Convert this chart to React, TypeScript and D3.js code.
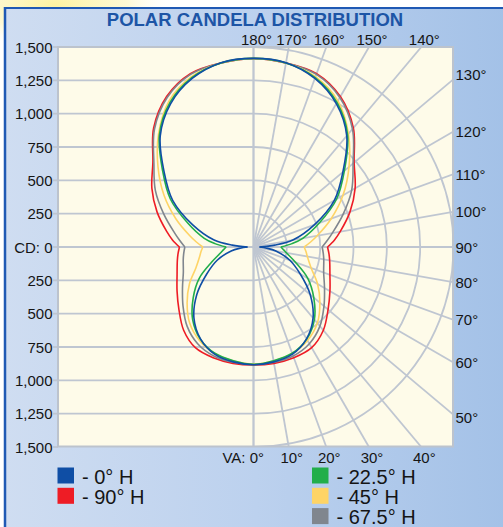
import React from 'react';
import * as d3 from 'd3';

// ---- data ----
const VA_ANGLES = [0, 10, 20, 30, 40, 50, 60, 70, 80, 85, 90, 95, 100, 110, 120, 130, 140, 150, 160, 170, 180];
const CD_0H = [883, 875, 855, 795, 695, 555, 405, 290, 170, 100, 45, 160, 300, 485, 700, 875, 1088, 1242, 1345, 1404, 1415];
const CD_22H = [880, 866, 848, 798, 710, 590, 470, 335, 250, 225, 205, 290, 375, 525, 720, 890, 1098, 1252, 1352, 1402, 1415];
const CD_45H = [878, 868, 850, 810, 745, 650, 555, 460, 410, 395, 380, 430, 485, 620, 775, 935, 1108, 1266, 1360, 1402, 1413];
const CD_67H = [882, 878, 870, 838, 775, 690, 615, 560, 535, 525, 515, 555, 600, 715, 850, 975, 1155, 1295, 1378, 1402, 1413];
const CD_90H = [885, 886, 884, 872, 815, 730, 662, 610, 580, 568, 555, 610, 660, 770, 880, 985, 1165, 1303, 1384, 1402, 1413];

const SERIES_NAMES = ['- 0° H', '- 90° H', '- 22.5° H', '- 45° H', '- 67.5° H'];
const SERIES_COLORS = ['#0f4ea5', '#ee1c25', '#22ae4a', '#fed466', '#80868e'];
const SERIES_VALUES = [CD_0H, CD_90H, CD_22H, CD_45H, CD_67H];
const DRAW_ORDER = [1, 4, 3, 2, 0];

const CD_TICKS = [1500, 1250, 1000, 750, 500, 250, 0, -250, -500, -750, -1000, -1250, -1500];
const RING_VALUES = [250, 500, 750, 1000, 1250, 1500];
const SPOKE_ANGLES = d3.range(0, 181, 10);

const TITLE = 'POLAR CANDELA DISTRIBUTION';

export default function App() {
  const W = 503, H = 527;
  const cx = 253.5, cy = 247;
  const R = 200;
  const plotL = 58, plotR = 453, plotT = 47, plotB = 446.5;
  const r = d3.scaleLinear().domain([0, 1500]).range([0, R]);
  const fmt = d3.format(',');
  const font = "'Liberation Sans', Arial, Helvetica, sans-serif";
  const toRad = (d: number) => (d * Math.PI) / 180;

  const line = d3
    .lineRadial<[number, number]>()
    .angle((d) => d[0])
    .radius((d) => r(d[1]))
    .curve(d3.curveCatmullRom.alpha(0.5));

  const buildPaths = (vals: number[]) => {
    const pts = VA_ANGLES.map((a, i) => ({ a, v: vals[i] }));
    const upperRight = pts.filter((p) => p.a >= 90).map((p) => [Math.PI - toRad(p.a), p.v] as [number, number]);
    const upperLeft = pts
      .filter((p) => p.a >= 90 && p.a < 180)
      .reverse()
      .map((p) => [Math.PI + toRad(p.a), p.v] as [number, number]);
    const lowerLeft = pts
      .filter((p) => p.a <= 90)
      .reverse()
      .map((p) => [Math.PI + toRad(p.a), p.v] as [number, number]);
    const lowerRight = pts
      .filter((p) => p.a <= 90 && p.a > 0)
      .map((p) => [Math.PI - toRad(p.a), p.v] as [number, number]);
    return [line([...upperRight, ...upperLeft]) || '', line([...lowerLeft, ...lowerRight]) || ''];
  };

  // spoke exit points & labels
  const spokes = SPOKE_ANGLES.map((a) => {
    const dx = Math.sin(toRad(a));
    const dy = Math.cos(toRad(a)); // + = down
    const tx = dx > 1e-6 ? (plotR - cx) / dx : Infinity;
    const ty = Math.abs(dy) > 1e-6 ? (dy > 0 ? plotB - cy : cy - plotT) / Math.abs(dy) : Infinity;
    const t = Math.min(tx, ty, 400);
    let side = 'right';
    if (ty <= tx) side = dy > 0 ? 'bottom' : 'top';
    return { a, x2: cx + dx * t, y2: cy + dy * t, side, tanX: cx + R * Math.tan(toRad(dy > 0 ? a : 180 - a)) };
  });

  const gridColor = '#bfc6d1';
  const textColor = '#151515';

  return (
    <svg width={W} height={H} style={{ position: 'absolute', left: 0, top: 0 }} xmlns="http://www.w3.org/2000/svg">
      <defs>
        <linearGradient id="frameGrad" x1="0" y1="0" x2="1" y2="0">
          <stop offset="0" stopColor="#cfddf1" />
          <stop offset="0.5" stopColor="#bcd1ee" />
          <stop offset="1" stopColor="#a3c1e7" />
        </linearGradient>
        <radialGradient id="glow" cx="0.5" cy="0.5" r="0.5">
          <stop offset="0" stopColor="#fdf29c" stopOpacity="0.95" />
          <stop offset="0.6" stopColor="#fdf5b8" stopOpacity="0.6" />
          <stop offset="1" stopColor="#ffffff" stopOpacity="0" />
        </radialGradient>
        <clipPath id="plotClip">
          <rect x={plotL} y={plotT} width={plotR - plotL} height={plotB - plotT} />
        </clipPath>
      </defs>

      <rect x={0} y={0} width={W} height={H} fill="#ffffff" />
      <ellipse cx={55} cy={5} rx={120} ry={45} fill="url(#glow)" />

      {/* frame */}
      <rect x={5} y={8} width={W} height={H} fill="url(#frameGrad)" />
      <line x1={5} y1={8} x2={W} y2={8} stroke="#1f59b4" strokeWidth={2} />
      <line x1={5} y1={7} x2={5} y2={H} stroke="#1f59b4" strokeWidth={2.5} />

      <text x={255} y={25.5} textAnchor="middle" fontFamily={font} fontWeight="bold" fontSize={18.5} fill="#1d55a6">
        {TITLE}
      </text>

      {/* plot background */}
      <rect x={plotL} y={plotT} width={plotR - plotL} height={plotB - plotT} fill="#fefbe9" />

      <g clipPath="url(#plotClip)" fill="none" stroke={gridColor} strokeWidth={1.8}>
        {/* left horizontal lines */}
        {CD_TICKS.map((v) => (
          <line key={'h' + v} x1={plotL} x2={cx} y1={cy - r(v)} y2={cy - r(v)} />
        ))}
        {/* right half rings */}
        {RING_VALUES.map((v) => (
          <path
            key={'ring' + v}
            d={d3.arc()({ innerRadius: r(v), outerRadius: r(v), startAngle: 0, endAngle: Math.PI }) || ''}
            transform={`translate(${cx},${cy})`}
          />
        ))}
        {/* spokes */}
        {spokes.map((s) => (
          <line key={'s' + s.a} x1={cx} y1={cy} x2={s.x2} y2={s.y2} />
        ))}
        <line x1={cx} x2={cx} y1={plotT} y2={plotB} />
      </g>

      {/* ticks */}
      <g stroke={gridColor} strokeWidth={1.8}>
        {CD_TICKS.map((v) => (
          <line key={'t' + v} x1={53} x2={plotL} y1={cy - r(v)} y2={cy - r(v)} />
        ))}
      </g>

      {/* plot border */}
      <rect x={plotL} y={plotT} width={plotR - plotL} height={plotB - plotT} fill="none" stroke="#bcc3cd" strokeWidth={2} />

      {/* curves */}
      <g transform={`translate(${cx},${cy})`} fill="none" strokeWidth={1.6} strokeLinejoin="round">
        {DRAW_ORDER.map((si) =>
          buildPaths(SERIES_VALUES[si]).map((d, j) => (
            <path key={si + '-' + j} d={d} stroke={SERIES_COLORS[si]} />
          ))
        )}
      </g>

      {/* y labels */}
      <g fontFamily={font} fontSize={15} fill={textColor} textAnchor="end">
        {CD_TICKS.map((v) => (
          <text key={'yl' + v} x={52.5} y={cy - r(v) + 5.5}>
            {v === 0 ? 'CD: 0' : fmt(Math.abs(v))}
          </text>
        ))}
      </g>

      {/* angle labels */}
      <g fontFamily={font} fontSize={15} fill={textColor}>
        {spokes.map((s) => {
          if (s.side === 'bottom') {
            if (s.a === 0)
              return (
                <text key={'al' + s.a} x={cx + 10.5} y={463} textAnchor="end">
                  {'VA: 0°'}
                </text>
              );
            return (
              <text key={'al' + s.a} x={s.tanX + 3} y={463} textAnchor="middle">
                {s.a + '°'}
              </text>
            );
          }
          if (s.side === 'top') {
            return (
              <text key={'al' + s.a} x={s.tanX + 3} y={45} textAnchor="middle">
                {s.a + '°'}
              </text>
            );
          }
          let y = s.y2;
          if (y - cy < -150) y -= 5;
          if (y - cy > 150) y += 3;
          return (
            <text key={'al' + s.a} x={plotR + 2.5} y={y + 5.5} textAnchor="start">
              {s.a + '°'}
            </text>
          );
        })}
      </g>

      {/* legend */}
      <g fontFamily={font} fontSize={20} fill={textColor}>
        {SERIES_NAMES.map((name, i) => {
          const col = i < 2 ? 0 : 1;
          const row = i < 2 ? i : i - 2;
          const x = col === 0 ? 57.5 : 312;
          const y = 467.5 + row * 20.3;
          return (
            <g key={'lg' + i}>
              <rect x={x} y={y} width={16.5} height={16} fill={SERIES_COLORS[i]} />
              <text x={x + 24.5} y={y + 16}>
                {name}
              </text>
            </g>
          );
        })}
      </g>
    </svg>
  );
}
